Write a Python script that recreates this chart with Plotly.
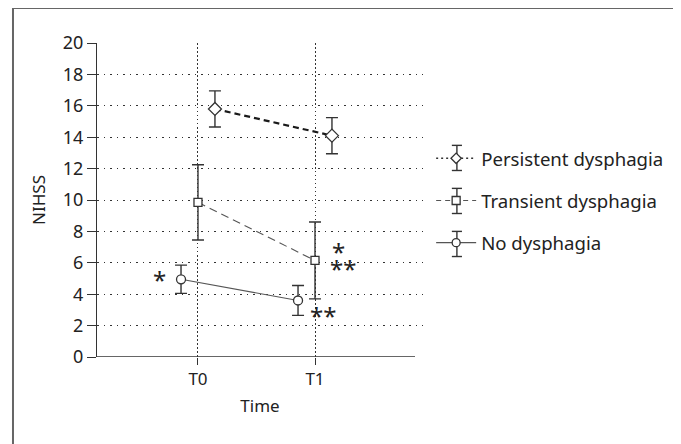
import plotly.graph_objects as go

times = ["T0", "T1"]
time_pos = [1, 2]
series_names = ["Persistent dysphagia", "Transient dysphagia", "No dysphagia"]
persistent_mean = [15.8, 14.1]
persistent_err = [1.15, 1.15]
transient_mean = [9.85, 6.15]
transient_err = [2.4, 2.45]
none_mean = [4.95, 3.6]
none_err = [0.9, 0.95]
y_ticks = [0, 2, 4, 6, 8, 10, 12, 14, 16, 18, 20]

# significance marks: (x position, y position, text)
sig_x = [0.675, 2.205, 2.24, 2.07]
sig_y = [5.0, 6.75, 5.65, 2.7]
sig_text = ["*", "*", "**", "**"]

FONT = "Noto Sans"
fig = go.Figure()

offsets = [0.145, 0.0, -0.145]
means = [persistent_mean, transient_mean, none_mean]
errs = [persistent_err, transient_err, none_err]
symbols = ["diamond", "square", "circle"]
msizes = [10, 8, 9]
line_styles = [dict(color="#1a1a1a", width=2.2, dash="6px,4px"),
               dict(color="#555555", width=1.1, dash="8px,5px"),
               dict(color="#555555", width=1.1, dash="solid")]
legend_lines = [dict(color="#333333", width=1.5, dash="2px,3px"),
                dict(color="#555555", width=1.2, dash="5px,4px"),
                dict(color="#555555", width=1.2, dash="solid")]

for i in range(3):
    fig.add_trace(go.Scatter(
        x=[p + offsets[i] for p in time_pos], y=means[i],
        mode="lines", showlegend=False, hoverinfo="skip",
        line=line_styles[i],
        error_y=dict(type="data", array=errs[i], visible=True,
                     color="#333333", thickness=1.4, width=6),
    ))
for i in range(3):
    fig.add_trace(go.Scatter(
        x=[p + offsets[i] for p in time_pos], y=means[i], mode="markers",
        showlegend=False,
        marker=dict(symbol=symbols[i], size=msizes[i],
                    color="white", line=dict(width=1.3, color="#333333")),
    ))
for i in range(3):
    fig.add_trace(go.Scatter(
        x=[None], y=[None], name=series_names[i], mode="lines+markers",
        legendgroup=series_names[i],
        line=legend_lines[i],
        marker=dict(symbol=symbols[i], size=8,
                    color="white", line=dict(width=1.3, color="#333333")),
    ))

for sx, sy, st in zip(sig_x, sig_y, sig_text):
    fig.add_annotation(x=sx, y=sy, text=st, showarrow=False, height=20,
                       font=dict(family=FONT, size=24, color="#222222"))

# legend key error-bar glyphs (decoration)
leg_cx = 1.104
leg_rows = [0.634, 0.497, 0.360]
hh, cw = 0.040, 0.0155
for ry in leg_rows:
    fig.add_shape(type="line", xref="paper", yref="paper",
                  x0=leg_cx, x1=leg_cx, y0=ry - hh, y1=ry + hh,
                  line=dict(color="#333333", width=1.4), layer="below")
    for cy in (ry - hh, ry + hh):
        fig.add_shape(type="line", xref="paper", yref="paper",
                      x0=leg_cx - cw, x1=leg_cx + cw, y0=cy, y1=cy,
                      line=dict(color="#333333", width=1.4))

# x-axis baseline and frame
fig.add_shape(type="line", xref="x", yref="y", x0=0.137, x1=2.855, y0=0, y1=0,
              line=dict(color="#333333", width=1.3))
fig.add_shape(type="rect", xref="paper", yref="paper",
              x0=-0.2577, x1=1.773, y0=-0.32, y1=1.1115,
              line=dict(color="#666666", width=2), layer="below")

fig.update_layout(
    width=673, height=436,
    margin=dict(l=89, r=258, t=35, b=87, autoexpand=False),
    paper_bgcolor="white", plot_bgcolor="white",
    font=dict(family=FONT, size=17, color="#222222"),
    legend=dict(x=1.025, y=0.692, xanchor="left", yanchor="top",
                font=dict(family=FONT, size=18.6, color="#222222"),
                itemwidth=40, tracegroupgap=15, bgcolor="rgba(0,0,0,0)"),
    xaxis=dict(range=[0.137, 2.923], tickvals=time_pos, ticktext=times,
               showgrid=True, griddash="1.5px,2.5px", gridcolor="#333333", gridwidth=1,
               zeroline=False, showline=False, ticks="outside", ticklen=7,
               tickcolor="#333333", tickfont=dict(size=17), automargin=False,
               title=dict(text="Time", font=dict(size=17), standoff=10)),
    yaxis=dict(range=[0, 20], tickvals=y_ticks,
               showgrid=True, griddash="1.5px,5px", gridcolor="#333333", gridwidth=1,
               zeroline=False, showline=True, linecolor="#333333", linewidth=1.3,
               ticks="outside", ticklen=9, tickcolor="#333333",
               tickfont=dict(size=18), automargin=False,
               title=dict(text="NIHSS", font=dict(size=17), standoff=12)),
)

fig.write_html("out.html")
